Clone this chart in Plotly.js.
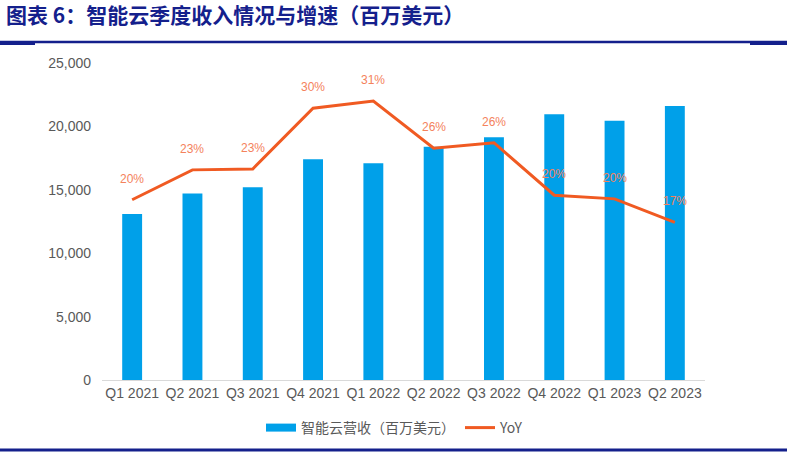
<!DOCTYPE html>
<html>
<head>
<meta charset="utf-8">
<script src="https://cdn.plot.ly/plotly-3.0.1.min.js"></script>
<style>html,body{margin:0;padding:0;background:#fff;}#chart{width:787px;height:457px;}</style>
</head>
<body>
<div id="chart"></div>
<script>
const categories = ["Q1 2021","Q2 2021","Q3 2021","Q4 2021","Q1 2022","Q2 2022","Q3 2022","Q4 2022","Q1 2023","Q2 2023"];
const revenue = [13100, 14700, 15200, 17400, 17100, 18400, 19150, 20950, 20450, 21600];
const yoy = [19.9, 23.2, 23.3, 30.0, 30.8, 25.6, 26.2, 20.4, 20.0, 17.4];
const yoyLabels = ["20%","23%","23%","30%","31%","26%","26%","20%","20%","17%"];
const yTicks = [0, 5000, 10000, 15000, 20000, 25000];
const seriesNames = ["智能云营收（百万美元）", "YoY"];

const FONT = "Liberation Sans, Arial, Noto Sans CJK SC, sans-serif";
const CJK = "Noto Sans CJK SC, Liberation Sans, sans-serif";
const NAVY = "#14208c";
const BLUE = "#00a0e9";
const ORANGE = "#f05a22";

const traces = [
  {
    type: "bar", x: categories, y: revenue, name: seriesNames[0], showlegend: false,
    marker: {color: BLUE}, yaxis: "y", hoverinfo: "skip"
  },
  // legend-only entry so the swatch is a wide band as in the reference
  {
    type: "scatter", mode: "lines", x: [null], y: [null], name: seriesNames[0],
    line: {color: BLUE, width: 8}, yaxis: "y", hoverinfo: "skip"
  },
  {
    type: "scatter", mode: "lines", x: categories, y: yoy, name: seriesNames[1],
    line: {color: ORANGE, width: 3}, yaxis: "y2", hoverinfo: "skip"
  }
];

const annotations = categories.map((c, i) => ({
  x: c, y: yoy[i], xref: "x", yref: "y2", text: yoyLabels[i], showarrow: false,
  yshift: 21, font: {family: FONT, size: 12, color: "#f4825c"}
}));

const px = v => (v - 102) / 603;
const py = v => (380 - v) / 317;
const shapes = [
  {type: "line", xref: "paper", yref: "paper", x0: px(0), x1: px(787), y0: py(42), y1: py(42), line: {color: NAVY, width: 2.5}},
  {type: "rect", xref: "paper", yref: "paper", x0: px(0), x1: px(35), y0: py(45), y1: py(41), fillcolor: NAVY, line: {width: 0}},
  {type: "rect", xref: "paper", yref: "paper", x0: px(750), x1: px(787), y0: py(45), y1: py(41), fillcolor: NAVY, line: {width: 0}},
  {type: "line", xref: "paper", yref: "paper", x0: px(0), x1: px(787), y0: py(450), y1: py(450), line: {color: NAVY, width: 3}}
];

const layout = {
  width: 787, height: 457,
  margin: {l: 102, r: 82, t: 63, b: 77},
  paper_bgcolor: "#ffffff", plot_bgcolor: "#ffffff",
  title: {
    text: "<b>图表 6：智能云季度收入情况与增速（百万美元）</b>",
    x: 6/787, xanchor: "left", xref: "container",
    y: 1 - 16/457, yanchor: "middle", yref: "container",
    font: {family: CJK, size: 21, color: NAVY}
  },
  bargap: 0.67,
  xaxis: {
    type: "category", showgrid: false, showline: true, linecolor: "#d9d9d9", linewidth: 1,
    ticks: "", tickfont: {family: FONT, size: 14, color: "#595959"}
  },
  yaxis: {
    range: [0, 25000], tickvals: yTicks, tickformat: ",", showgrid: false, zeroline: false,
    showline: false, ticks: "", ticklabelstandoff: 10,
    tickfont: {family: FONT, size: 14, color: "#595959"}
  },
  yaxis2: {overlaying: "y", side: "right", range: [0, 35], visible: false, showgrid: false},
  showlegend: true,
  legend: {
    orientation: "h", x: px(395), xanchor: "center", y: py(428), yanchor: "middle",
    font: {family: CJK, size: 14, color: "#595959"}, itemwidth: 30
  },
  annotations: annotations,
  shapes: shapes
};

Plotly.newPlot("chart", traces, layout, {staticPlot: true, displayModeBar: false});
</script>
</body>
</html>
